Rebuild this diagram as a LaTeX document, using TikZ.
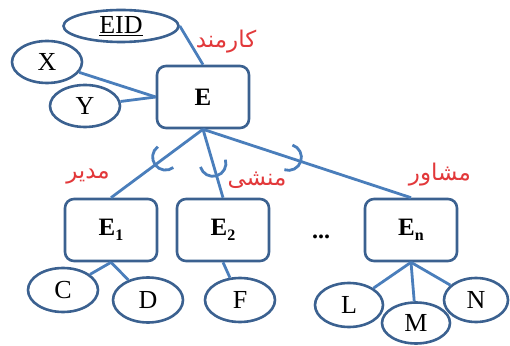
\documentclass[tikz,border=0pt]{standalone}
\usepackage{fontspec}
\setmainfont{Liberation Serif}
\newfontfamily\farsi[Script=Arabic]{DejaVu Sans}
\TeXXeTstate=1
\usetikzlibrary{positioning,calc,shapes.geometric}
\definecolor{edgeblue}{HTML}{3B6190}
\definecolor{linkblue}{HTML}{4A7EBB}
\definecolor{labelred}{HTML}{E2383A}
\newcommand{\esub}[1]{\raisebox{-0.4ex}{\fontsize{16}{16}\selectfont\bfseries #1}}

\begin{document}
\begin{tikzpicture}[x=1pt,y=1pt,
    entity/.style={draw=edgeblue,line width=2.6pt,rounded corners=9pt,fill=white,
                   minimum width=92pt,minimum height=62pt,inner sep=0pt,
                   font=\fontsize{25}{27}\selectfont\bfseries},
    attr/.style={ellipse,draw=edgeblue,line width=2.6pt,fill=white,inner sep=0pt,
                 font=\fontsize{26}{28}\selectfont},
    link/.style={draw=linkblue,line width=2.8pt},
    role/.style={text=labelred,font=\farsi\fontsize{23}{25}\selectfont}]
  \useasboundingbox (0,0) rectangle (510,345);

  \node[entity] (E)  at (203,248) {E};
  \node[entity] (E1) at (111,115) {E\esub{1}};
  \node[entity] (E2) at (223,115) {E\esub{2}};
  \node[entity] (En) at (411,115) {E\esub{n}};
  \node[font=\fontsize{24}{26}\selectfont\bfseries] (dots) at (321,108) {...};

  \foreach \nm/\x/\y/\w/\h/\txt in {
    EID/121/319/115/32/{\underline{EID}},
    X/47/283/70/42/X,
    Y/85/239/70/42/Y,
    C/63/55/70/44/C,
    D/148/45/70/45/D,
    F/240/45/70/44/F,
    L/349/40/68/44/L,
    M/416/22/68/41/M,
    N/476/45/64/44/N} {
    \node[attr,minimum width=\w pt,minimum height=\h pt] (\nm) at (\x,\y) {\txt};
  }

  \draw[link] (EID.east) -- (E.north);
  \draw[link] (X) -- (E.west);
  \draw[link] (Y) -- (E.west);
  \draw[link] (E1.south) -- (C);
  \draw[link] (E1.south) -- (D);
  \draw[link] (E2.south) -- (F);
  \draw[link] (En.south) -- (L);
  \draw[link] (En.south) -- (M);
  \draw[link] (En.south) -- (N);

  \foreach \kid/\t in {E1/0.52,E2/0.68,En/0.47} {
    \draw[link] (E.south) -- (\kid.north);
    \draw[link] let \p1=($(\kid.north)-(E.south)$), \n1={atan2(\y1,\x1)},
                    \p2=($(E.south)!\t!(\kid.north)$) in
      ($(\p2)+(\n1+180:13pt)+(\n1-90:13pt)$) arc[start angle=\n1-90,end angle=\n1+90,radius=13pt];
  }

  \node[role] (boss)  at (226,303) {\beginR کارمند\endR};
  \node[role] (mgr)   at (88,168)  {\beginR مدیر\endR};
  \node[role] (sec)   at (257,165) {\beginR منشی\endR};
  \node[role] (adv)   at (440,170) {\beginR مشاور\endR};
\end{tikzpicture}
\end{document}
